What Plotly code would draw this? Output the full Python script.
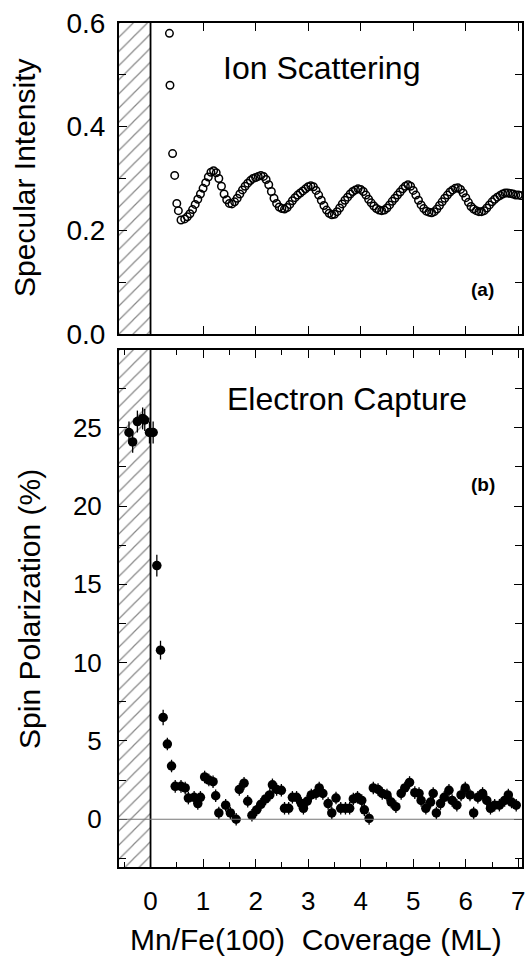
import plotly.graph_objects as go

# ---------------- data ----------------
# (a) Ion scattering specular intensity vs coverage (ML)
ion_x = [0.36, 0.37, 0.42, 0.46, 0.50, 0.53, 0.58,
         0.65, 0.70, 0.75, 0.80, 0.85, 0.90, 0.95, 1.00, 1.05, 1.10, 1.15, 1.20,
         1.25, 1.30, 1.35, 1.40, 1.45, 1.50, 1.55,
         1.60, 1.65, 1.70, 1.75, 1.80, 1.85, 1.90, 1.95, 2.00, 2.05, 2.10, 2.15,
         2.20, 2.25, 2.30, 2.35, 2.40, 2.45, 2.50, 2.55,
         2.60, 2.65, 2.70, 2.75, 2.80, 2.85, 2.90, 2.95, 3.00, 3.05,
         3.10, 3.15, 3.20, 3.25, 3.30, 3.35, 3.40, 3.45, 3.50,
         3.55, 3.60, 3.65, 3.70, 3.75, 3.80, 3.85, 3.90, 3.95, 4.00,
         4.05, 4.10, 4.15, 4.20, 4.25, 4.30, 4.35, 4.40, 4.45,
         4.50, 4.55, 4.60, 4.65, 4.70, 4.75, 4.80, 4.85, 4.90,
         4.95, 5.00, 5.05, 5.10, 5.15, 5.20, 5.25, 5.30, 5.35,
         5.40, 5.45, 5.50, 5.55, 5.60, 5.65, 5.70, 5.75, 5.80, 5.85,
         5.90, 5.95, 6.00, 6.05, 6.10, 6.15, 6.20, 6.25, 6.30,
         6.35, 6.40, 6.45, 6.50, 6.55, 6.60, 6.65, 6.70, 6.75, 6.80, 6.85, 6.90, 6.95, 7.00, 7.05]
ion_y = [0.580, 0.480, 0.348, 0.306, 0.252, 0.238, 0.220,
         0.222, 0.226, 0.232, 0.240, 0.250, 0.260, 0.270, 0.281, 0.292, 0.303, 0.312, 0.315,
         0.311, 0.300, 0.285, 0.270, 0.259, 0.252, 0.251,
         0.255, 0.262, 0.270, 0.278, 0.285, 0.291, 0.296, 0.300, 0.302, 0.304, 0.306, 0.304,
         0.298, 0.288, 0.275, 0.262, 0.252, 0.245, 0.242, 0.241,
         0.244, 0.250, 0.257, 0.263, 0.268, 0.272, 0.276, 0.280, 0.284, 0.286,
         0.284, 0.277, 0.268, 0.258, 0.248, 0.239, 0.233, 0.230, 0.231,
         0.236, 0.243, 0.251, 0.258, 0.264, 0.270, 0.275, 0.278, 0.280, 0.279,
         0.275, 0.268, 0.260, 0.253, 0.247, 0.242, 0.239, 0.238, 0.239,
         0.243, 0.249, 0.256, 0.262, 0.268, 0.274, 0.280, 0.285, 0.288,
         0.285, 0.277, 0.268, 0.258, 0.249, 0.242, 0.237, 0.235, 0.234,
         0.236, 0.241, 0.248, 0.255, 0.262, 0.268, 0.274, 0.278, 0.281, 0.282,
         0.279, 0.272, 0.263, 0.254, 0.246, 0.241, 0.238, 0.236, 0.236,
         0.238, 0.243, 0.249, 0.255, 0.260, 0.264, 0.267, 0.270, 0.272, 0.272, 0.271, 0.270, 0.268, 0.268, 0.267]

# (b) Electron capture spin polarization (%) vs coverage (ML)
ec_x = [-0.41, -0.34, -0.25, -0.15, -0.11, -0.02, 0.05,
        0.12, 0.19, 0.24, 0.32, 0.40, 0.47, 0.58, 0.66, 0.72, 0.83,
        0.90, 0.95, 1.03, 1.11, 1.19, 1.24, 1.30, 1.43, 1.52, 1.63,
        1.69, 1.78, 1.85, 1.93, 2.02, 2.10, 2.19, 2.27, 2.32, 2.40,
        2.49, 2.55, 2.63, 2.70, 2.78, 2.87, 2.91, 2.98, 3.06, 3.15,
        3.21, 3.28, 3.38, 3.45, 3.53, 3.62, 3.71, 3.79, 3.86, 3.94,
        4.02, 4.07, 4.16, 4.24, 4.33, 4.41, 4.50, 4.58, 4.67, 4.77,
        4.84, 4.93, 5.03, 5.11, 5.15, 5.24, 5.33, 5.38, 5.44, 5.52,
        5.59, 5.68, 5.74, 5.83, 5.91, 5.99, 6.08, 6.15, 6.23, 6.32,
        6.40, 6.47, 6.55, 6.64, 6.74, 6.81, 6.87, 6.96]
ec_y = [24.7, 24.1, 25.4, 25.6, 25.5, 24.7, 24.7,
        16.2, 10.8, 6.5, 4.8, 3.4, 2.1, 2.1, 2.0, 1.35, 1.4,
        1.0, 1.4, 2.7, 2.5, 2.4, 1.5, 0.4, 0.9, 0.4, 0.0,
        1.9, 2.3, 1.15, 0.25, 0.6, 0.95, 1.3, 1.55, 2.2, 1.9,
        1.85, 0.7, 0.7, 1.4, 1.4, 1.0, 0.7, 1.15, 1.55, 1.65,
        2.0, 1.65, 1.0, 0.4, 1.35, 0.7, 0.7, 0.7, 1.3, 1.4,
        1.2, 0.6, 0.05, 2.0, 1.9, 1.65, 1.55, 1.1, 0.8, 1.65,
        2.0, 2.35, 1.7, 1.65, 1.2, 0.7, 1.1, 1.65, 0.4, 1.0,
        1.4, 1.85, 1.2, 0.9, 1.55, 2.0, 1.55, 0.4, 1.4, 1.65,
        1.2, 0.7, 0.9, 0.9, 1.2, 1.55, 1.1, 0.9]
ec_err = [0.7, 0.7, 0.7, 0.7, 0.7, 0.7, 0.7,
          0.7, 0.6, 0.5, 0.4, 0.4, 0.4, 0.4, 0.4, 0.4, 0.4,
          0.4, 0.4, 0.4, 0.4, 0.4, 0.4, 0.4, 0.4, 0.4, 0.4,
          0.4, 0.4, 0.4, 0.4, 0.4, 0.4, 0.4, 0.4, 0.4, 0.4,
          0.4, 0.4, 0.4, 0.4, 0.4, 0.4, 0.4, 0.4, 0.4, 0.4,
          0.4, 0.4, 0.4, 0.4, 0.4, 0.4, 0.4, 0.4, 0.4, 0.4,
          0.4, 0.4, 0.4, 0.4, 0.4, 0.4, 0.4, 0.4, 0.4, 0.4,
          0.4, 0.4, 0.4, 0.4, 0.4, 0.4, 0.4, 0.4, 0.4, 0.4,
          0.4, 0.4, 0.4, 0.4, 0.4, 0.4, 0.4, 0.4, 0.4, 0.4,
          0.4, 0.4, 0.4, 0.4, 0.4, 0.4, 0.4, 0.4]

# axis ranges / substrate (hatched) region
X_RANGE = [-0.60, 7.07]
Y1_RANGE = [0.0, 0.6]
Y2_RANGE = [-3.05, 29.97]
SUBSTRATE = [X_RANGE[0], 0.0]

# ---------------- layout geometry ----------------
W, H = 526, 956
L, R, T, B = 119, 0, 23, 89
PW, PH = W - L - R, H - T - B


def px(xp):
    return (xp - L) / PW


def py(yp):
    return (H - B - yp) / PH


FONT = "Liberation Sans, Arial, Helvetica, sans-serif"

fig = go.Figure()

hatch = dict(shape="/", fgcolor="#111111", bgcolor="white", size=10, solidity=0.12)

# hatched substrate region, top panel
fig.add_trace(go.Scatter(
    x=[SUBSTRATE[0], SUBSTRATE[1], SUBSTRATE[1], SUBSTRATE[0], SUBSTRATE[0]],
    y=[Y1_RANGE[0], Y1_RANGE[0], Y1_RANGE[1], Y1_RANGE[1], Y1_RANGE[0]],
    fill="toself", fillcolor="white", fillpattern=hatch, mode="lines",
    line=dict(width=0), hoverinfo="skip", showlegend=False,
    xaxis="x", yaxis="y"))
# hatched substrate region, bottom panel
fig.add_trace(go.Scatter(
    x=[SUBSTRATE[0], SUBSTRATE[1], SUBSTRATE[1], SUBSTRATE[0], SUBSTRATE[0]],
    y=[Y2_RANGE[0], Y2_RANGE[0], Y2_RANGE[1], Y2_RANGE[1], Y2_RANGE[0]],
    fill="toself", fillcolor="white", fillpattern=hatch, mode="lines",
    line=dict(width=0), hoverinfo="skip", showlegend=False,
    xaxis="x2", yaxis="y2"))

fig.add_trace(go.Scatter(
    x=ion_x, y=ion_y, mode="markers",
    marker=dict(symbol="circle-open", size=7.5, color="black", line=dict(width=1.5, color="black")),
    showlegend=False, xaxis="x", yaxis="y"))

fig.add_trace(go.Scatter(
    x=ec_x, y=ec_y, mode="markers",
    marker=dict(symbol="circle", size=9.5, color="black"),
    error_y=dict(type="data", array=ec_err, width=0, thickness=1.3, color="black"),
    showlegend=False, xaxis="x2", yaxis="y2"))

axis_common = dict(showline=True, linewidth=2, linecolor="black", mirror="allticks",
                   ticks="inside", tickwidth=1.2, tickcolor="black",
                   showgrid=False, zeroline=False)

top_dom = [py(334), 1.0]
bot_dom = [0.0, py(350)]

fig.update_layout(
    width=W, height=H,
    margin=dict(l=L, r=R, t=T, b=B, pad=0),
    paper_bgcolor="white", plot_bgcolor="white",
    font=dict(family=FONT, color="black"),
    xaxis=dict(axis_common, domain=[0, 1], anchor="y", range=X_RANGE,
               tick0=0, dtick=1, ticklen=8, showticklabels=False),
    yaxis=dict(axis_common, domain=top_dom, anchor="x", range=Y1_RANGE,
               tick0=0, dtick=0.2, tickformat=".1f", ticklen=8,
               minor=dict(dtick=0.1, ticks="inside", ticklen=7, tickcolor="black"),
               tickfont=dict(size=28, family=FONT), ticklabelstandoff=6),
    xaxis2=dict(axis_common, domain=[0, 1], anchor="y2", range=X_RANGE,
                tick0=0, dtick=1, ticklen=8,
                minor=dict(dtick=0.5, ticks="inside", ticklen=5, tickcolor="black"),
                tickfont=dict(size=26, family=FONT), ticklabeloverflow="allow",
                ticklabelstandoff=10),
    yaxis2=dict(axis_common, domain=bot_dom, anchor="x2", range=Y2_RANGE,
                tick0=0, dtick=5, ticklen=8,
                minor=dict(dtick=2.5, ticks="inside", ticklen=7, tickcolor="black"),
                tickfont=dict(size=26, family=FONT), ticklabelstandoff=10),
)

# vertical line at zero coverage and horizontal zero-polarization line
fig.add_shape(type="line", xref="x", yref="y domain", x0=0, x1=0, y0=0, y1=1,
              line=dict(color="black", width=1.8))
fig.add_shape(type="line", xref="x2", yref="y2 domain", x0=0, x1=0, y0=0, y1=1,
              line=dict(color="black", width=1.8))
fig.add_shape(type="line", xref="x2 domain", yref="y2", x0=0, x1=1, y0=0, y1=0,
              line=dict(color="#777777", width=1))

ann = []
ann.append(dict(text="Specular Intensity", x=px(24), y=py(178), textangle=-90,
                font=dict(size=30, family=FONT)))
ann.append(dict(text="Spin Polarization (%)", x=px(28), y=py(609), textangle=-90,
                font=dict(size=30, family=FONT)))
ann.append(dict(text="Mn/Fe(100)&nbsp; Coverage (ML)", x=px(318), y=py(939),
                font=dict(size=30, family=FONT)))
ann.append(dict(text="Ion Scattering", x=px(324), y=py(68),
                font=dict(size=32, family=FONT)))
ann.append(dict(text="Electron Capture", x=px(349), y=py(399),
                font=dict(size=32, family=FONT)))
ann.append(dict(text="<b>(a)</b>", x=px(486), y=py(289),
                font=dict(size=19, family=FONT)))
ann.append(dict(text="<b>(b)</b>", x=px(487), y=py(484),
                font=dict(size=19, family=FONT)))
for a in ann:
    a.update(xref="paper", yref="paper", showarrow=False, xanchor="center", yanchor="middle")
fig.update_layout(annotations=ann)

fig.write_html("out.html")
